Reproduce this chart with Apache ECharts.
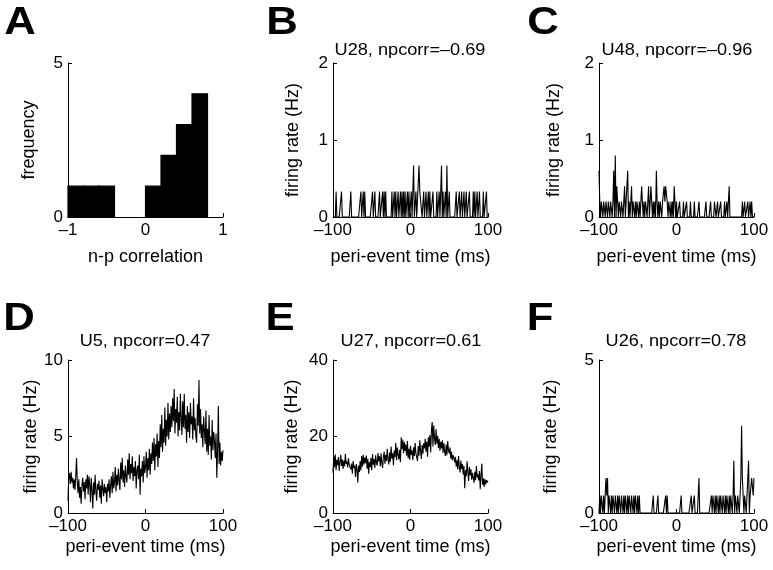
<!DOCTYPE html>
<html>
<head>
<meta charset="utf-8">
<script src="https://cdn.jsdelivr.net/npm/echarts@6/dist/echarts.min.js"></script>
<style>html,body{margin:0;padding:0;background:#fff}#c{width:773px;height:570px}</style>
</head>
<body>
<div id="c"></div>
<script>
// ---------- Data ----------
const histEdges = [-1, -0.8, -0.6, -0.4, -0.2, 0, 0.2, 0.4, 0.6, 0.8, 1];
const histCounts = [1, 1, 1, 0, 0, 1, 2, 3, 4, 0];

const timeStart = -100, timeEnd = 100;
const xTicks = [-100, 0, 100];

const titleB = 'U28, npcorr=\u20130.69';
const titleC = 'U48, npcorr=\u20130.96';
const titleD = 'U5, npcorr=0.47';
const titleE = 'U27, npcorr=0.61';
const titleF = 'U26, npcorr=0.78';

const rateB = [
0,0,0,0,0.33,0,0,0,0,0,
0,0.33,0,0,0,0,0,0,0,0,
0,0,0,0.33,0,0,0,0,0,0,
0,0,0,0,0,0,0.33,0,0,0.33,
0,0.33,0,0,0,0,0,0,0,0,
0,0.33,0,0,0.33,0,0,0,0,0,
0.33,0,0,0,0.33,0,0.33,0,0.33,0,
0,0,0,0,0,0,0.33,0,0,0.33,
0,0.33,0,0,0.33,0,0,0.33,0,0.33,
0,0.33,0,0.33,0,0,0.33,0,0.33,0,
0,0.33,0,0,0.67,0,0,0.33,0,0,
0,0.67,0.33,0.33,0.33,0,0,0.33,0,0,
0.33,0,0,0.33,0,0.33,0,0,0,0.33,
0,0,0,0,0.33,0,0,0.33,0,0,
0.67,0,0.33,0,0,0.33,0,0.67,0,0,
0.33,0,0,0,0,0,0,0,0,0.33,
0,0,0,0.33,0,0,0.33,0,0,0.33,
0,0,0.33,0,0,0,0.33,0,0,0,
0,0.33,0,0.33,0,0,0.33,0,0,0.33,
0,0,0,0,0.33,0,0,0,0.33,0,
0];

const rateC = [
0.6,0.2,0,0.2,0.2,0,0.2,0.2,0,0.2,
0.2,0,0.2,0.2,0,0.2,0.2,0,0.2,0.6,
0,0.8,0,0.4,0.2,0,0.2,0.2,0,0.2,
0.2,0,0.2,0.4,0,0.2,0.2,0.6,0,0.2,
0,0.2,0.4,0,0.2,0.2,0,0.2,0,0.2,
0.2,0,0.2,0,0.2,0.4,0.2,0,0.2,0,
0.2,0.2,0,0.2,0.4,0,0.2,0.4,0.2,0,
0.2,0,0.2,0,0.6,0.2,0,0.2,0,0.2,
0.2,0,0.2,0.2,0.4,0.2,0.4,0.4,0.2,0,
0.2,0.2,0,0.2,0,0.2,0,0.4,0.2,0,
0.2,0,0,0,0.2,0,0,0,0,0.2,
0,0,0,0.2,0,0,0,0,0.2,0,
0,0,0,0.2,0,0,0,0,0,0.2,
0,0,0,0,0,0,0,0,0.2,0,
0,0,0,0,0.2,0,0,0,0,0.2,
0.2,0,0,0.2,0,0,0,0.2,0,0,
0,0,0.2,0,0,0.2,0,0,0.4,0,
0,0,0,0,0,0,0,0,0,0,
0,0,0,0,0,0.2,0,0,0.2,0,
0,0,0.2,0,0,0.2,0,0.2,0,0,
0];

const rateD = [
0.8,2.4,2.6,1.9,2.7,2.0,2.3,1.6,2.2,1.5,
2.4,3.6,2.0,1.3,2.2,1.0,1.7,0.6,1.8,2.3,
1.4,2.0,0.9,2.2,1.6,2.5,1.2,2.4,1.9,0.7,
2.3,1.5,0.3,2.0,1.2,2.5,1.4,0.8,1.9,1.5,
2.1,1.0,1.8,0.6,2.2,1.6,1.1,1.9,1.3,1.7,
0.7,1.9,1.4,2.2,1.0,1.8,2.4,1.3,2.7,1.6,
2.0,3.0,1.4,2.5,1.8,2.9,2.1,1.5,3.3,2.2,
3.6,2.0,2.8,1.7,3.1,2.4,2.0,3.5,2.5,3.9,
2.2,3.2,2.6,3.7,2.1,3.0,2.4,3.4,1.6,2.8,
3.1,2.2,3.8,1.2,2.9,2.4,3.4,2.0,3.7,2.6,
3.0,4.0,2.3,3.6,2.8,4.2,2.5,3.9,3.2,4.6,
3.4,4.9,2.8,4.5,3.7,5.2,3.0,4.7,3.6,5.8,
4.3,6.4,4.0,5.5,4.6,6.9,4.4,6.1,5.0,7.2,
4.8,6.5,5.3,7.0,5.6,7.5,6.0,8.1,5.2,6.8,
5.9,7.6,5.0,6.6,5.4,7.8,6.2,5.1,7.3,5.6,
7.8,5.5,6.4,4.6,7.0,5.3,6.6,4.9,7.2,5.8,
6.3,4.8,7.5,5.4,6.2,5.0,4.6,7.1,5.7,8.7,
5.2,6.8,4.9,5.8,4.3,6.3,5.4,4.5,6.7,4.0,
5.5,3.8,6.4,4.4,5.0,3.5,6.1,4.1,5.3,4.7,
3.6,5.2,2.3,4.1,7.0,3.2,4.6,3.1,4.0,3.4,
4.1];

const rateE = [
10.5,14.8,12.0,15.3,11.2,13.9,12.5,14.6,11.0,13.4,
15.2,12.3,14.0,11.5,13.7,12.2,15.5,12.8,13.5,11.9,
14.3,12.6,13.1,11.4,12.9,10.3,13.6,11.8,12.4,9.4,
12.8,11.3,8.0,12.4,10.7,13.6,11.1,14.9,12.1,15.3,
12.7,14.5,13.0,15.0,11.6,14.2,10.3,13.3,12.0,14.4,
11.2,15.4,12.6,14.1,11.8,15.1,13.2,12.4,15.7,13.5,
14.8,12.2,15.6,13.0,11.8,14.7,16.0,12.9,15.2,13.6,
16.8,14.0,12.7,15.8,13.4,17.4,14.2,15.6,12.5,16.3,
14.6,18.3,13.8,17.1,15.2,14.0,16.5,13.3,19.8,16.7,
19.2,15.6,18.6,16.2,17.9,15.0,18.8,14.3,16.8,13.9,
17.6,15.2,16.4,13.8,17.2,14.9,18.3,15.6,16.1,13.6,
17.5,15.0,19.0,16.3,14.1,17.8,15.5,18.2,16.9,19.4,
16.0,18.7,14.7,19.8,17.3,20.4,15.8,21.6,23.8,17.4,
22.9,19.5,17.8,21.9,18.1,20.2,17.0,19.4,16.3,18.6,
16.9,19.0,15.7,18.3,16.2,14.9,17.9,15.1,18.8,16.4,
15.6,17.1,14.2,16.0,13.8,15.1,14.4,13.2,14.7,12.1,
13.8,11.4,14.9,12.0,10.6,13.7,11.5,12.8,10.1,12.3,
6.5,11.2,9.6,13.5,10.8,8.4,12.1,9.9,11.4,8.7,
10.5,9.2,7.9,10.8,8.6,12.3,9.3,10.1,8.5,11.0,
6.2,9.8,12.9,7.4,9.1,6.8,8.9,7.5,8.6,8.0,
8.4];

const rateF = [
0,0.57,0,0.57,0.57,0,0.57,0,0.57,1.14,
0.57,1.14,0,0.57,0.57,0,0.57,0,0.57,0.57,
0,0.57,0.57,0,0.57,0,0.57,0.57,0,0.57,
0.57,0,0.57,0,0.57,0.57,0,0.57,0,0.57,
0.57,0,0.57,0.57,0,0.57,0,0.57,0.57,0,
0.57,0,0.57,0,0,0,0,0,0,0,
0,0,0,0,0,0,0,0,0,0,
0.57,0,0,0,0,0,0.57,0,0,0,
0,0,0,0,0,0,0.57,0,0.57,0,
0,0,0,0,0,0,0,0,0,0,
0,0,0,0,0,0,0.57,0,0,0,
0,0,0,0,0,0,0,0,0,0.57,
0,0,0,0.57,0,0,0,0,0,1.14,
0,0,0,0,0,0,0,0,0,0,
0,0,0,0,0,0.57,0,0.57,0.57,0,
0.57,0,0.57,0.57,0,0.57,0,0.57,0.57,0,
0.57,0.57,0,0.57,0,0.57,0.57,0,0.57,0,
0.57,0.57,0,0.57,1.71,0,0.57,0.57,0,0.57,
0.57,0,0.57,1.14,2.85,1.14,1.14,0,0.57,0.57,
0,0.57,0.57,1.71,0,0.57,0.57,1.14,1.14,0.57,
1.14];

// ---------- Build ----------
const timeBins = [];
for (let t = timeStart; t <= timeEnd; t++) timeBins.push(t);
const pairs = (vals) => timeBins.map((t, i) => [t, vals[i]]);

const FONT = 'Liberation Sans, Arial, Helvetica, sans-serif';
const TICK_FS = 17, NAME_FS = 18, TITLE_FS = 16.5;

const grids = [
  {left: 68,  top: 63,  width: 155, height: 154},
  {left: 333, top: 63,  width: 155, height: 154},
  {left: 599, top: 63,  width: 155, height: 154},
  {left: 68,  top: 360, width: 155, height: 153},
  {left: 333, top: 360, width: 155, height: 153},
  {left: 599, top: 360, width: 155, height: 153}
];

const axisCommon = {
  axisLine: {show: true, onZero: false, lineStyle: {color: '#000', width: 1}},
  axisTick: {show: true, inside: true, length: 4, lineStyle: {color: '#000'}},
  splitLine: {show: false},
  nameTextStyle: {color: '#000', fontSize: NAME_FS, fontFamily: FONT},
  axisLabel: {color: '#000', fontSize: TICK_FS, fontFamily: FONT, margin: 5}
};

function xAx(i, min, max, interval, name, gap) {
  return Object.assign({}, axisCommon, {
    type: 'value', gridIndex: i, min, max, interval,
    name, nameLocation: 'middle', nameGap: gap,
    axisLabel: Object.assign({}, axisCommon.axisLabel, {
      formatter: v => (v < 0 ? '\u2013' + Math.abs(v) : String(v))
    })
  });
}
function yAx(i, min, max, interval, name, gap) {
  return Object.assign({}, axisCommon, {
    type: 'value', gridIndex: i, min, max, interval,
    name, nameLocation: 'middle', nameGap: gap, nameRotate: 90
  });
}

const xAxes = [
  xAx(0, -1, 1, 1, 'n-p correlation', 31),
  xAx(1, timeStart, timeEnd, 100, 'peri-event time (ms)', 31),
  xAx(2, timeStart, timeEnd, 100, 'peri-event time (ms)', 31),
  xAx(3, timeStart, timeEnd, 100, 'peri-event time (ms)', 25),
  xAx(4, timeStart, timeEnd, 100, 'peri-event time (ms)', 25),
  xAx(5, timeStart, timeEnd, 100, 'peri-event time (ms)', 25)
];
const yAxes = [
  yAx(0, 0, 5, 5, 'frequency', 30),
  yAx(1, 0, 2, 1, 'firing rate (Hz)', 31),
  yAx(2, 0, 2, 1, 'firing rate (Hz)', 36),
  yAx(3, 0, 10, 5, 'firing rate (Hz)', 27),
  yAx(4, 0, 40, 20, 'firing rate (Hz)', 32),
  yAx(5, 0, 5, 5, 'firing rate (Hz)', 39)
];

function lineSeries(i, vals) {
  return {
    type: 'line', xAxisIndex: i, yAxisIndex: i, data: pairs(vals),
    symbol: 'none', lineStyle: {color: '#000', width: 1.1}, silent: true, z: 1
  };
}

const histData = histCounts.map((c, i) => [histEdges[i], histEdges[i + 1], c]);

const series = [
  {
    type: 'custom', xAxisIndex: 0, yAxisIndex: 0, data: histData,
    encode: {x: [0, 1], y: 2},
    renderItem: (params, api) => {
      const h = api.value(2);
      if (!h) return null;
      const p0 = api.coord([api.value(0), h]);
      const p1 = api.coord([api.value(1), 0]);
      return {type: 'rect', shape: {x: p0[0], y: p0[1], width: p1[0] - p0[0], height: p1[1] - p0[1]},
              style: {fill: '#000', stroke: '#000', lineWidth: 1.2}};
    }
  },
  lineSeries(1, rateB),
  lineSeries(2, rateC),
  lineSeries(3, rateD),
  lineSeries(4, rateE),
  lineSeries(5, rateF)
];

function txt(x, y, text, size, bold, sx) {
  return {type: 'text', x, y, silent: true, scaleX: sx, scaleY: 1,
    style: {text, fill: '#000', font: (bold ? 'bold ' : '') + size + 'px ' + FONT,
            textAlign: 'center', textVerticalAlign: 'middle'}};
}

const graphics = [
  txt(20, 24, 'A', 38, true, 1.15),
  txt(282, 24, 'B', 38, true, 1.15),
  txt(543, 24, 'C', 38, true, 1.15),
  txt(19, 320, 'D', 38, true, 1.15),
  txt(280, 320, 'E', 38, true, 1.15),
  txt(540, 320, 'F', 38, true, 1.15),
  txt(410, 50, titleB, TITLE_FS, false, 1.1),
  txt(677, 50, titleC, TITLE_FS, false, 1.1),
  txt(145, 341, titleD, TITLE_FS, false, 1.1),
  txt(411, 341, titleE, TITLE_FS, false, 1.1),
  txt(676, 341, titleF, TITLE_FS, false, 1.1)
];

const chart = echarts.init(document.getElementById('c'), null, {renderer: 'canvas'});
chart.setOption({
  animation: false,
  backgroundColor: '#fff',
  grid: grids,
  xAxis: xAxes,
  yAxis: yAxes,
  series,
  graphic: graphics
});
</script>
</body>
</html>
